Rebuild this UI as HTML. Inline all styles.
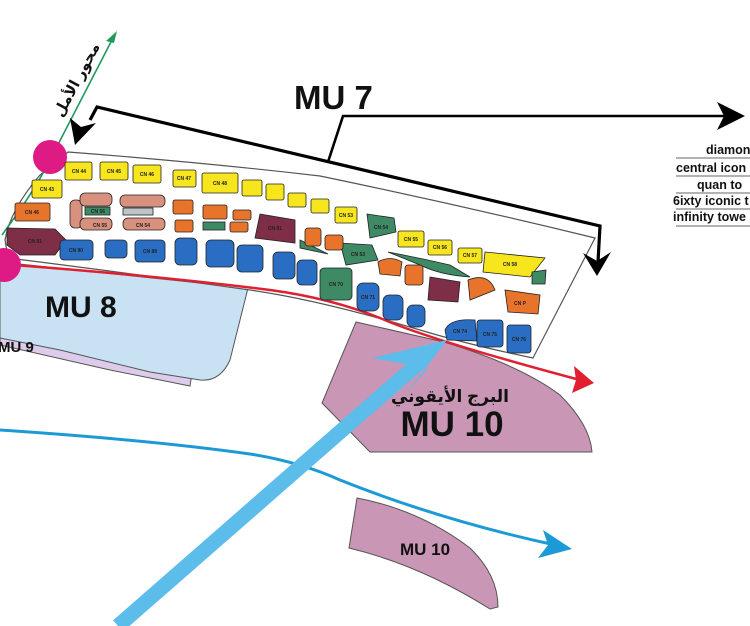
<!DOCTYPE html>
<html><head><meta charset="utf-8"><style>
html,body{margin:0;padding:0;background:#fff;}
svg{display:block;}
text{font-family:"Liberation Sans","DejaVu Sans",sans-serif;}
.l{font-size:5px;fill:#222;text-anchor:middle;font-weight:bold;}
</style></head><body>
<svg width="750" height="626" viewBox="0 0 750 626" xmlns="http://www.w3.org/2000/svg">
<defs>
<marker id="ab" markerWidth="6" markerHeight="6" refX="5" refY="3" orient="auto" markerUnits="strokeWidth"><path d="M0,0 L6,3 L0,6 L1.5,3 Z" fill="#000"/></marker>
</defs>
<!-- MU9 -->
<path d="M0,300 L200,320 L190,386 L110,370 L0,345 Z" fill="#dccbea" stroke="#555" stroke-width="1"/>
<!-- MU8 -->
<path d="M0,262 L248,288 L230,360 Q220,382 200,380 L150,372 L60,350 L0,338 Z" fill="#c8e2f4" stroke="#555" stroke-width="1"/>
<text x="45" y="317" font-size="30" font-weight="bold" fill="#111">MU 8</text>
<text x="-2" y="352" font-size="15" font-weight="bold" fill="#111">MU 9</text>
<!-- MU10 big -->
<path d="M356,322 L444,342 Q520,365 560,395 Q590,425 592,452 L370,452 L322,403 Z" fill="#c996b5" stroke="#555" stroke-width="1"/>
<text x="450" y="402" font-size="17" font-weight="bold" fill="#111" text-anchor="middle" font-family="'DejaVu Sans',sans-serif">البرج الأيقوني</text>
<text x="452" y="436" font-size="35" font-weight="bold" fill="#111" text-anchor="middle">MU 10</text>
<!-- MU10 small -->
<path d="M357,498 Q420,510 470,548 Q498,575 498,607 L490,609 Q420,565 349,548 Z" fill="#c996b5" stroke="#555" stroke-width="1"/>
<text x="425" y="555" font-size="17" font-weight="bold" fill="#111" text-anchor="middle">MU 10</text>
<!-- strip -->
<path d="M68,152 Q200,162 320,176 Q460,205 595,238 L533,358 Q470,345 420,330 Q320,300 250,290 Q120,272 8,258 L5,240 Q10,210 40,175 Z" fill="#fff" stroke="#555" stroke-width="1.2"/>
<!-- red line -->
<path d="M0,264 Q150,275 270,290 Q330,298 380,318 Q430,340 580,380" fill="none" stroke="#e02030" stroke-width="2.5"/>
<path d="M594,383 L572,393 L576,380 L574,366 Z" fill="#e02030"/>
<!-- green axis -->
<path d="M2,235 L20,210 Q40,180 50,160 L113,38" fill="none" stroke="#1f9a5c" stroke-width="1.6"/>
<path d="M117,31 L106,41 L114,43 Z" fill="#1f9a5c"/>
<text transform="translate(62,118) rotate(-62)" font-size="15" font-weight="bold" fill="#111" font-family="'DejaVu Sans',sans-serif">محور الأمل</text>
<circle cx="50" cy="157" r="17" fill="#de1a84"/>
<circle cx="4" cy="265" r="17" fill="#de1a84"/>
<!-- blocks -->
<g stroke="#222" stroke-width="0.8">
<g fill="#f7e51d">
<rect x="65" y="162" width="27" height="18" rx="2"/><rect x="100" y="162" width="28" height="18" rx="2"/><rect x="133" y="165" width="28" height="18" rx="2"/><rect x="173" y="170" width="23" height="17" rx="2"/><rect x="202" y="173" width="36" height="20" rx="2"/><rect x="242" y="180" width="20" height="16" rx="2"/><rect x="266" y="184" width="18" height="16" rx="2"/><rect x="288" y="193" width="18" height="14" rx="2"/><rect x="311" y="199" width="18" height="14" rx="2"/><rect x="335" y="207" width="22" height="16" rx="2"/><rect x="32" y="180" width="30" height="18" rx="2"/><rect x="398" y="231" width="26" height="16" rx="2"/><rect x="428" y="240" width="24" height="15" rx="2"/><rect x="458" y="248" width="24" height="15" rx="2"/>
<path d="M485,252 L545,258 L530,277 L483,272 Z"/>
</g>
<g fill="#3e8a65">
<path d="M367,214 L394,218 L396,232 L370,238 Z"/><path d="M532,272 L546,270 L545,284 L532,284 Z"/><rect x="85" y="207" width="25" height="8"/><rect x="203" y="222" width="22" height="8"/><path d="M300,240 L328,254 L300,248 Z"/><path d="M340,243 L372,245 L378,260 L346,265 Z"/><path d="M388,252 Q420,258 450,265 L470,277 Q440,275 420,265 Z"/><rect x="320" y="268" width="32" height="32" rx="4"/>
</g>
<g fill="#e8742c">
<rect x="15" y="203" width="35" height="18" rx="2"/><rect x="173" y="200" width="20" height="14" rx="2"/><rect x="175" y="220" width="18" height="12" rx="2"/><rect x="203" y="205" width="24" height="14" rx="2"/><rect x="233" y="210" width="18" height="10" rx="2"/><rect x="230" y="222" width="18" height="10" rx="2"/><rect x="305" y="228" width="16" height="18" rx="3"/><rect x="325" y="235" width="18" height="15" rx="3"/><path d="M378,262 Q390,255 402,262 L400,276 L380,274 Z"/><rect x="405" y="265" width="18" height="20" rx="3"/><path d="M468,280 Q488,272 495,290 L470,300 Z"/><path d="M505,290 L540,295 L538,314 L508,312 Z"/>
</g>
<g fill="#d8917e">
<rect x="70" y="200" width="12" height="28" rx="5"/><rect x="80" y="193" width="32" height="13" rx="5"/><rect x="80" y="218" width="32" height="12" rx="5"/><rect x="120" y="195" width="45" height="12" rx="5"/><rect x="123" y="218" width="42" height="12" rx="5"/>
</g>
<rect x="123" y="208" width="30" height="7" fill="#bcc6c8"/>
<g fill="#7f2e47">
<path d="M7,228 L55,229 L66,240 L55,255 L20,255 L7,245 Z"/><path d="M260,214 L295,220 L295,243 L255,238 Z"/><path d="M430,277 L460,282 L458,302 L428,300 Z"/>
</g>
<g fill="#2a6ec4">
<rect x="60" y="240" width="33" height="20" rx="4"/><rect x="105" y="240" width="22" height="18" rx="4"/><rect x="135" y="240" width="30" height="22" rx="4"/><rect x="175" y="238" width="22" height="27" rx="5"/><rect x="206" y="240" width="28" height="27" rx="5"/><rect x="237" y="245" width="26" height="27" rx="5"/><rect x="273" y="252" width="22" height="27" rx="5"/><rect x="297" y="260" width="20" height="25" rx="5"/><rect x="357" y="283" width="22" height="28" rx="6"/><rect x="383" y="295" width="20" height="25" rx="6"/><rect x="407" y="305" width="18" height="22" rx="6"/><path d="M445,330 Q450,318 475,320 L477,341 L447,340 Z"/><rect x="477" y="320" width="26" height="27" rx="3"/><rect x="507" y="325" width="24" height="28" rx="3"/>
</g>
</g>
<g class="l">
<text x="79" y="173">CN 44</text><text x="114" y="173">CN 45</text><text x="147" y="176">CN 46</text><text x="184" y="180">CN 47</text><text x="220" y="185">CN 48</text><text x="47" y="191">CN 43</text><text x="32" y="214">CN 46</text><text x="35" y="243">CN 81</text><text x="76" y="252">CN 90</text><text x="150" y="253">CN 88</text><text x="275" y="230">CN 81</text><text x="346" y="217">CN 53</text><text x="381" y="229">CN 54</text><text x="411" y="241">CN 55</text><text x="440" y="249">CN 56</text><text x="470" y="257">CN 57</text><text x="510" y="266">CN 58</text><text x="358" y="256">CN 53</text><text x="336" y="286">CN 70</text><text x="368" y="299">CN 71</text><text x="460" y="333">CN 74</text><text x="490" y="336">CN 75</text><text x="519" y="341">CN 76</text><text x="100" y="227">CN 55</text><text x="143" y="227">CN 54</text><text x="98" y="213">CN 56</text><text x="520" y="305">CN P</text>
</g>
<!-- MU7 brackets -->
<text x="294" y="109" font-size="33" font-weight="bold" fill="#111">MU 7</text>
<polyline points="90,120 97,107 600,226 598,262" fill="none" stroke="#000" stroke-width="3.2"/>
<path d="M75,145 L70,118 L81,127 L96,123 Z" fill="#000"/>
<path d="M597,276 L583,253 L597,261 L611,252 Z" fill="#000"/>
<polyline points="328,162 343,116 725,116" fill="none" stroke="#000" stroke-width="2.6"/>
<path d="M745,116 L717,102 L724,116 L717,130 Z" fill="#000"/>
<!-- right labels -->
<g font-size="12.5" font-weight="bold" fill="#111">
<text x="706" y="154">diamond</text><line x1="676" y1="158" x2="750" y2="158" stroke="#333" stroke-width="0.8"/>
<text x="676" y="172">central icon</text><line x1="676" y1="176" x2="750" y2="176" stroke="#333" stroke-width="0.8"/>
<text x="697" y="189">quan to</text><line x1="676" y1="193" x2="750" y2="193" stroke="#333" stroke-width="0.8"/>
<text x="673" y="205">6ixty iconic t</text><line x1="676" y1="209" x2="750" y2="209" stroke="#333" stroke-width="0.8"/>
<text x="673" y="221">infinity towe</text><line x1="676" y1="226" x2="750" y2="226" stroke="#333" stroke-width="0.8"/>
</g>
<!-- thin blue -->
<path d="M0,430 Q150,440 250,454 Q300,462 340,480 Q440,520 555,545" fill="none" stroke="#1c9ad6" stroke-width="3"/>
<path d="M572,549 L538,558 L548,545 L543,530 Z" fill="#1c9ad6"/>
<!-- thick blue -->
<line x1="118" y1="626" x2="420" y2="362" stroke="#5cbcea" stroke-width="15"/>
<path d="M447,340 L372,358 L428,368 L405,395 Z" fill="#5cbcea"/>
</svg>
</body></html>
